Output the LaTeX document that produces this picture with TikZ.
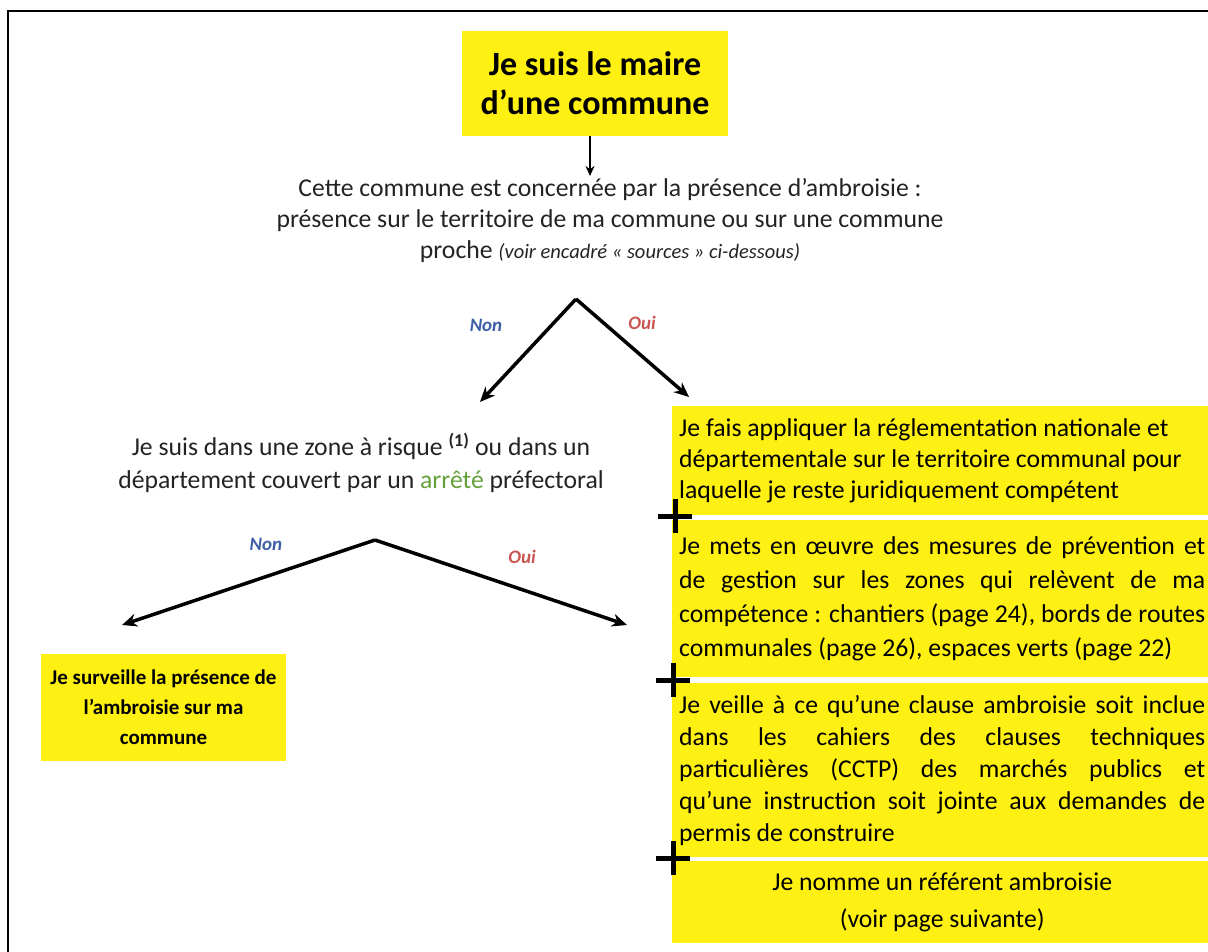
\documentclass[tikz,border=0pt]{standalone}
\usepackage{fontspec}
\setmainfont{Carlito}
\usetikzlibrary{arrows.meta}
\definecolor{jaune}{RGB}{255,240,20}
\definecolor{texte}{RGB}{35,35,35}
\definecolor{bleunon}{RGB}{60,95,165}
\definecolor{rougeoui}{RGB}{200,85,80}
\definecolor{vertarrete}{RGB}{100,160,60}
\newcommand{\sanscoupure}{\tolerance=10000 \hyphenpenalty=10000 }

\begin{document}
\begin{tikzpicture}[x=1pt,y=-1pt,
  yellowbox/.style={fill=jaune,inner sep=0pt},
  actionbox/.style={yellowbox,anchor=north west,text width=526pt,inner xsep=7pt,
    font=\fontsize{25.7}{31}\selectfont},
  question/.style={text=texte,align=center},
  forkarrow/.style={line width=3.5pt,-{Stealth[length=15pt,width=13pt]}},
  nonlabel/.style={text=bleunon,font=\fontsize{19}{22}\selectfont\bfseries\itshape},
  ouilabel/.style={text=rougeoui,font=\fontsize{19}{22}\selectfont\bfseries\itshape},
  plusmark/.style={line width=5pt}]
\useasboundingbox (0,0) rectangle (1208,952);
% cadre
\draw[line width=2.5pt] (1208,11) -- (8,11) -- (8,952);

\node[yellowbox,minimum width=266pt,minimum height=105pt,align=center,
  font=\fontsize{34}{39}\selectfont\bfseries] (maire) at (595,83.5)
  {Je suis le maire\\ d’une commune};

\node[question,font=\fontsize{25.7}{31}\selectfont] (concerne) at (610,221)
  {Cette commune est concernée par la présence d’ambroisie :\\
   présence sur le territoire de ma commune ou sur une commune\\
   proche {\fontsize{20.5}{31}\selectfont\itshape(voir encadré «~sources~» ci-dessous)}};
\coordinate (concerne in) at (590,176);
\draw[line width=1.8pt,-{Stealth[length=10pt,width=9pt]}] (maire.south -| concerne in) -- (concerne in);

% premier choix
\coordinate (fork1) at (576,299);
\coordinate (fork1 non) at (480,402);
\coordinate (fork1 oui) at (689,397);
\draw[forkarrow] (fork1) -- (fork1 non);
\draw[forkarrow] (fork1) -- (fork1 oui);
\node[nonlabel] (non1) at (486,325) {Non};
\node[ouilabel] (oui1) at (642,323) {Oui};

\node[question,font=\fontsize{25.7}{33}\selectfont] (zone) at (361,463)
  {Je suis dans une zone à risque \textsuperscript{\bfseries(1)} ou dans un\\
   département couvert par un \textcolor{vertarrete}{arrêté} préfectoral};

% second choix
\coordinate (fork2) at (375,540);
\coordinate (fork2 non) at (122,625);
\coordinate (fork2 oui) at (627,625);
\draw[forkarrow] (fork2) -- (fork2 non);
\draw[forkarrow] (fork2) -- (fork2 oui);
\node[nonlabel] (non2) at (266,544) {Non};
\node[ouilabel] (oui2) at (522,557) {Oui};

\node[yellowbox,minimum width=245pt,minimum height=107pt,align=center,
  font=\fontsize{21}{30}\selectfont\bfseries] (surveille) at (163.5,707.5)
  {Je surveille la présence de\\ l{\char"27}ambroisie sur ma\\ commune};

% actions du maire
\node[actionbox,minimum height=109pt,align=flush left] (reglement) at (672,406)
  {Je fais appliquer la réglementation nationale et\\
   départementale sur le territoire communal pour\\
   laquelle je reste juridiquement compétent};
\node[actionbox,minimum height=157pt,align=justify,
  font=\fontsize{25.7}{34}\selectfont] (mesures) at (672,520)
  {\sanscoupure Je mets en œuvre des mesures de prévention et\linebreak
   de gestion sur les zones qui relèvent de ma\linebreak
   compétence : chantiers (page 24), bords de routes\linebreak
   communales (page 26), espaces verts (page 22)};
\node[actionbox,minimum height=174pt,align=justify,
  font=\fontsize{25.7}{32}\selectfont] (clause) at (672,683)
  {\sanscoupure Je veille à ce qu’une clause ambroisie soit inclue\linebreak
   dans les cahiers des clauses techniques\linebreak
   particulières (CCTP) des marchés publics et\linebreak
   qu’une instruction soit jointe aux demandes de\linebreak
   permis de construire};
\node[actionbox,minimum height=82pt,align=flush center,
  font=\fontsize{25.7}{37}\selectfont] (referent) at (672,861)
  {Je nomme un référent ambroisie\\ (voir page suivante)};

% les signes plus
\foreach \px/\py in {675/516, 673/680, 673/858} {
  \draw[plusmark] (\px-17,\py) -- (\px+17,\py);
  \draw[plusmark] (\px,\py-17) -- (\px,\py+17);
}
\end{tikzpicture}
\end{document}
